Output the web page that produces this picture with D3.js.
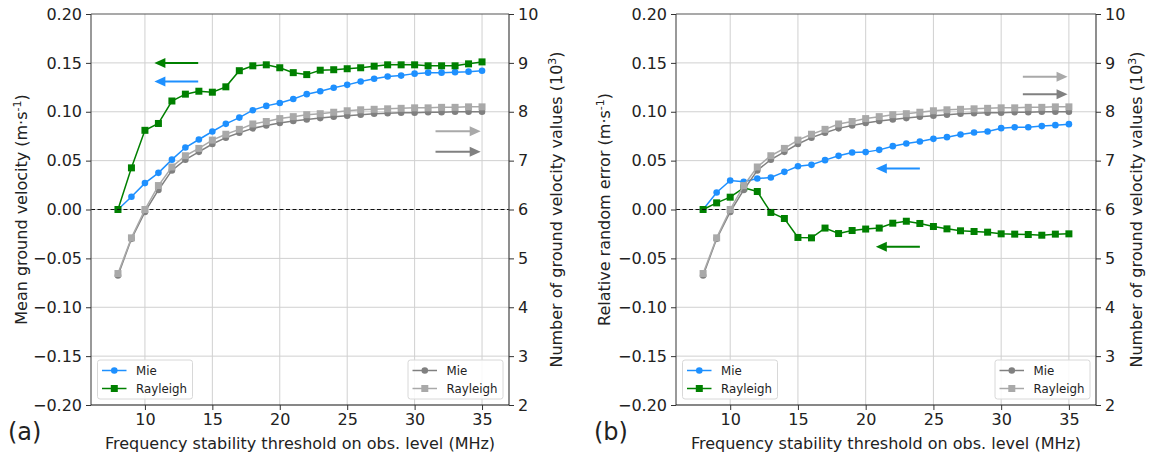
<!DOCTYPE html>
<html><head><meta charset="utf-8">
<script src="https://cdn.jsdelivr.net/npm/d3@7"></script>
<style>
body{margin:0;background:#fff;}
svg{display:block;font-family:"DejaVu Sans",sans-serif;}
</style></head><body>
<svg id="chart" width="1149" height="455"></svg>
<script>
// ---- data ----
const thresholds = [8,9,10,11,12,13,14,15,16,17,18,19,20,21,22,23,24,25,26,27,28,29,30,31,32,33,34,35];
// panel (a): mean ground velocity (m/s)
const meanMie = [0,0.013,0.027,0.0375,0.051,0.0634,0.0716,0.0798,0.0876,0.094,0.1016,0.106,0.109,0.113,0.118,0.121,0.1245,0.1275,0.131,0.1337,0.136,0.137,0.139,0.140,0.140,0.1405,0.141,0.142];
const meanRayleigh = [0,0.0426,0.081,0.088,0.111,0.118,0.121,0.120,0.1255,0.142,0.147,0.148,0.145,0.140,0.138,0.1425,0.143,0.144,0.145,0.1466,0.148,0.148,0.148,0.147,0.147,0.147,0.149,0.151];
// panel (b): relative random error (m/s)
const errMie = [0,0.0174,0.0297,0.0283,0.0317,0.0327,0.0385,0.0443,0.0457,0.0505,0.0549,0.0583,0.0587,0.061,0.0648,0.0675,0.0696,0.0723,0.074,0.0767,0.0788,0.0798,0.0832,0.0842,0.0842,0.0853,0.0863,0.0873];
const errRayleigh = [0,0.0068,0.0126,0.0222,0.0184,-0.003,-0.0092,-0.0286,-0.029,-0.019,-0.0246,-0.0215,-0.020,-0.019,-0.014,-0.012,-0.0143,-0.0174,-0.0198,-0.0218,-0.0225,-0.0232,-0.0249,-0.0252,-0.0256,-0.0263,-0.0252,-0.0249];
// number of ground velocity values (10^3), both panels
const countMie = [4.65,5.40,5.95,6.40,6.80,7.02,7.18,7.34,7.47,7.57,7.66,7.72,7.77,7.81,7.84,7.87,7.90,7.92,7.94,7.96,7.97,7.98,7.98,7.99,7.99,8.0,8.0,8.0];
const countRayleigh = [4.69,5.42,6.00,6.49,6.87,7.10,7.25,7.42,7.54,7.64,7.75,7.80,7.86,7.90,7.94,7.96,7.99,8.02,8.04,8.05,8.06,8.07,8.08,8.08,8.09,8.09,8.10,8.10];
const xTicks = [10,15,20,25,30,35];
const yLeftTicks = [-0.20,-0.15,-0.10,-0.05,0.00,0.05,0.10,0.15,0.20];
const yRightTicks = [2,3,4,5,6,7,8,9,10];

const BLUE="#1e90ff", GREEN="#008000", DGRAY="#808080", LGRAY="#a9a9a9";
const FS = 16;
const svg = d3.select("#chart");

function panel(cfg){
  const {x0,x1,y0,y1} = cfg;
  const g = svg.append("g");
  const x = d3.scaleLinear().domain([6,37]).range([x0,x1]);
  const yL = d3.scaleLinear().domain([-0.2,0.2]).range([y1,y0]);
  const yR = d3.scaleLinear().domain([2,10]).range([y1,y0]);

  // grid
  g.append("g").selectAll("line").data(xTicks).join("line")
    .attr("x1",d=>x(d)).attr("x2",d=>x(d)).attr("y1",y0).attr("y2",y1)
    .attr("stroke","#d0d0d0").attr("stroke-width",1);
  g.append("g").selectAll("line").data(yLeftTicks.slice(1,-1)).join("line")
    .attr("x1",x0).attr("x2",x1).attr("y1",d=>yL(d)).attr("y2",d=>yL(d))
    .attr("stroke","#d0d0d0").attr("stroke-width",1);

  function legend(lx,ly,items){
    const lg = g.append("g");
    lg.append("rect").attr("x",lx).attr("y",ly).attr("width",95).attr("height",39)
      .attr("rx",2.5).attr("fill","#fff").attr("fill-opacity",0.85).attr("stroke","#d8d8d8").attr("stroke-width",1);
    items.forEach((it,i)=>{
      const yy = ly+10.5+i*18;
      lg.append("line").attr("x1",lx+4.5).attr("x2",lx+29).attr("y1",yy).attr("y2",yy)
        .attr("stroke",it.c).attr("stroke-width",1.5);
      if(it.m==="c") lg.append("circle").attr("cx",lx+16.8).attr("cy",yy).attr("r",3.3).attr("fill",it.c);
      else lg.append("rect").attr("x",lx+13.3).attr("y",yy-3.5).attr("width",7).attr("height",7).attr("fill",it.c);
      lg.append("text").attr("x",lx+38.5).attr("y",yy+4.3).attr("font-size",11.8).attr("fill","#222").text(it.t);
    });
  }

  function series(vals,scale,color,marker){
    const pts = thresholds.map((t,i)=>[t,vals[i]]);
    g.append("path").datum(pts)
      .attr("d",d3.line().x(d=>x(d[0])).y(d=>scale(d[1])))
      .attr("fill","none").attr("stroke",color).attr("stroke-width",1.5);
    if(marker==="c"){
      g.append("g").selectAll("circle").data(pts).join("circle")
        .attr("cx",d=>x(d[0])).attr("cy",d=>scale(d[1])).attr("r",3.3).attr("fill",color);
    } else {
      g.append("g").selectAll("rect").data(pts).join("rect")
        .attr("x",d=>x(d[0])-3.5).attr("y",d=>scale(d[1])-3.5).attr("width",7).attr("height",7).attr("fill",color);
    }
  }

  series(cfg.mie,yL,BLUE,"c");
  series(cfg.ray,yL,GREEN,"s");
  legend(x0+6.5,y1-45,[{t:"Mie",c:BLUE,m:"c"},{t:"Rayleigh",c:GREEN,m:"s"}]);

  g.append("line").attr("x1",x0).attr("x2",x1).attr("y1",yL(0)).attr("y2",yL(0))
    .attr("stroke","#111").attr("stroke-width",1.2).attr("stroke-dasharray","4,2.5");

  series(countMie,yR,DGRAY,"c");
  series(countRayleigh,yR,LGRAY,"s");
  legend(x1-101,y1-45,[{t:"Mie",c:DGRAY,m:"c"},{t:"Rayleigh",c:LGRAY,m:"s"}]);

  function arrow(xFrom,xTo,yv,color){
    const px1 = x(xFrom), px2 = x(xTo), py = yL(yv);
    const dir = Math.sign(px2-px1);
    const hl = 11, hw = 5;
    g.append("line").attr("x1",px1).attr("x2",px2-dir*hl+dir*1).attr("y1",py).attr("y2",py)
      .attr("stroke",color).attr("stroke-width",2);
    g.append("path").attr("d",`M${px2},${py}L${px2-dir*hl},${py-hw}L${px2-dir*hl},${py+hw}Z`).attr("fill",color);
  }
  cfg.arrows.forEach(a=>arrow(a[0],a[1],a[2],a[3]));

  // spines
  g.append("line").attr("x1",x0).attr("x2",x1).attr("y1",y0).attr("y2",y0).attr("stroke","#555").attr("stroke-width",1.2);
  g.append("line").attr("x1",x0).attr("x2",x0).attr("y1",y0).attr("y2",y1).attr("stroke","#555").attr("stroke-width",1.2);
  g.append("line").attr("x1",x1).attr("x2",x1).attr("y1",y0).attr("y2",y1).attr("stroke","#444").attr("stroke-width",1.2);
  g.append("line").attr("x1",x0).attr("x2",x1).attr("y1",y1).attr("y2",y1).attr("stroke","#111").attr("stroke-width",1.2);

  const fmtL = d=> (d<0?"\u2212":"")+Math.abs(d).toFixed(2);
  const axB = g.append("g").attr("transform",`translate(0,${y1})`)
    .call(d3.axisBottom(x).tickValues(xTicks).tickSize(5).tickPadding(4));
  const axL = g.append("g").attr("transform",`translate(${x0},0)`)
    .call(d3.axisLeft(yL).tickValues(yLeftTicks).tickFormat(fmtL).tickSize(5).tickPadding(4));
  const axR = g.append("g").attr("transform",`translate(${x1},0)`)
    .call(d3.axisRight(yR).tickValues(yRightTicks).tickFormat(d3.format("d")).tickSize(5).tickPadding(4));
  [axB,axL,axR].forEach(a=>{
    a.select(".domain").remove();
    a.selectAll(".tick line").attr("stroke","#333").attr("stroke-width",1);
    a.selectAll(".tick text").attr("font-size",FS).attr("font-family","DejaVu Sans").attr("fill","#222");
  });

  g.append("text").attr("x",(x0+x1)/2).attr("y",449).attr("text-anchor","middle")
    .attr("font-size",FS).attr("fill","#222").text("Frequency stability threshold on obs. level (MHz)");
  const ll = g.append("text").attr("transform",`translate(${cfg.lLabelX},${(y0+y1)/2}) rotate(-90)`)
    .attr("text-anchor","middle").attr("font-size",FS).attr("fill","#222");
  ll.append("tspan").text(cfg.lLabel+" (m\u00b7s");
  ll.append("tspan").attr("font-size",11).attr("dy",-6).text("-1");
  ll.append("tspan").attr("dy",6).text(")");
  const rl = g.append("text").attr("transform",`translate(${cfg.rLabelX},${(y0+y1)/2}) rotate(-90)`)
    .attr("text-anchor","middle").attr("font-size",FS).attr("fill","#222");
  rl.append("tspan").text("Number of ground velocity values (10");
  rl.append("tspan").attr("font-size",11).attr("dy",-6).text("3");
  rl.append("tspan").attr("dy",6).text(")");
  g.append("text").attr("x",cfg.tagX).attr("y",440).attr("font-size",24).attr("fill","#222").text(cfg.tag);
}

panel({x0:91,x1:509,y0:14,y1:405,mie:meanMie,ray:meanRayleigh,
  lLabel:"Mean ground velocity",lLabelX:26.5,rLabelX:562,tag:"(a)",tagX:8,
  arrows:[[13.95,10.7,0.150,GREEN],[13.95,10.7,0.131,BLUE],[31.55,34.9,0.080,LGRAY],[31.55,34.9,0.059,DGRAY]]});
panel({x0:676,x1:1096,y0:14,y1:405,mie:errMie,ray:errRayleigh,
  lLabel:"Relative random error",lLabelX:610,rLabelX:1142,tag:"(b)",tagX:594,
  arrows:[[24.0,20.75,0.042,BLUE],[24.0,20.75,-0.038,GREEN],[31.6,34.9,0.1357,LGRAY],[31.6,34.9,0.118,DGRAY]]});
</script>
</body></html>
